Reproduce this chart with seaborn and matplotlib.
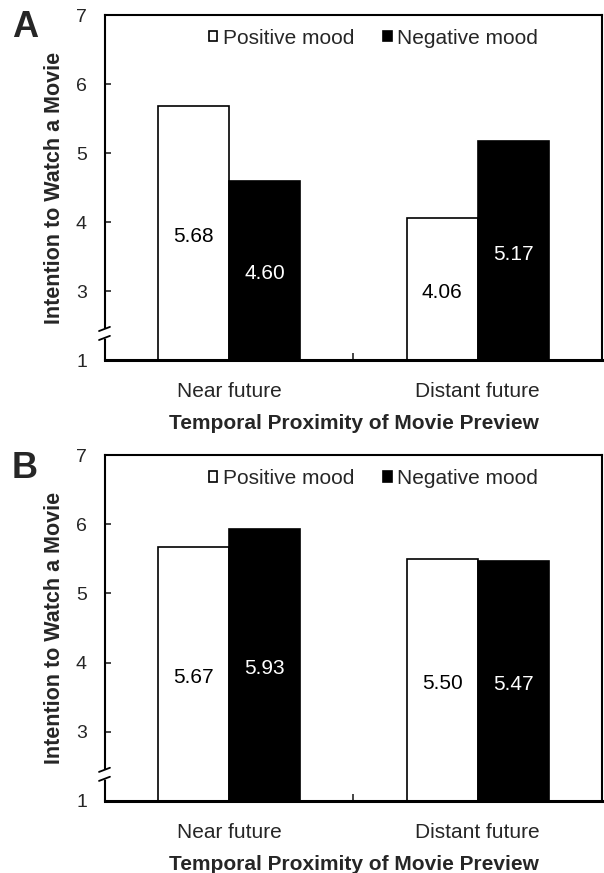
import matplotlib
matplotlib.use("Agg")
import matplotlib.pyplot as plt
import seaborn as sns
import pandas as pd

# data
timing = ["Near future", "Distant future"]
moods = ["Positive mood", "Negative mood"]
panel_a_pos = [5.68, 4.06]
panel_a_neg = [4.60, 5.17]
panel_b_pos = [5.67, 5.50]
panel_b_neg = [5.93, 5.47]

# broken y axis: the tick labelled "1" sits one unit below 3
ytick_pos = [2, 3, 4, 5, 6, 7]
ytick_labels = ["1", "3", "4", "5", "6", "7"]
axis_floor = 2

sns.set_style("ticks")
plt.rcParams['font.family'] = ['Liberation Sans', 'DejaVu Sans']
FS = 15


def draw_panel(ax, pos, neg):
    df = pd.DataFrame({
        "Timing": timing * 2,
        "Mood": [moods[0]] * len(timing) + [moods[1]] * len(timing),
        "Score": pos + neg,
    })
    sns.barplot(data=df, x="Timing", y="Score", hue="Mood", order=timing,
                hue_order=moods, palette=["white", "black"], edgecolor="black",
                linewidth=1.2, width=0.57, gap=0, ax=ax)

    # value labels in the middle of the visible part of each bar
    for i, cont in enumerate(ax.containers):
        for bar in cont:
            h = bar.get_height()
            ax.text(bar.get_x() + bar.get_width() / 2, (axis_floor + h) / 2 - 0.05,
                    f"{h:.2f}", ha="center", va="center", fontsize=FS,
                    color="white" if i == 1 else "black")

    ax.set_ylim(axis_floor, 7)
    ax.set_xlim(-0.5, 1.5)
    ax.set_yticks(ytick_pos, ytick_labels)
    ax.tick_params(axis="y", direction="in", length=4, width=1.2, pad=13, labelsize=14)
    ax.tick_params(axis="x", length=0, pad=16, labelsize=FS)
    ax.set_xticks([0.5], minor=True)
    ax.tick_params(axis="x", which="minor", direction="in", length=5, width=1.2)
    for s in ax.spines.values():
        s.set_linewidth(1.5)
        s.set_color("black")
    ax.spines["bottom"].set_linewidth(2.2)

    ax.set_xlabel("Temporal Proximity of Movie Preview", fontsize=FS,
                  fontweight="bold", labelpad=9)
    ax.set_ylabel("Intention to Watch a Movie", fontsize=15.5,
                  fontweight="bold", labelpad=8)

    handles, labels = ax.get_legend_handles_labels()
    ax.legend(handles, labels, loc="center", bbox_to_anchor=(0.54, 0.933),
              ncol=2, frameon=False, fontsize=FS, handlelength=0.4,
              handleheight=0.4, handletextpad=0.25, columnspacing=1.4)

    # axis break marks
    ax.plot([0, 0], [0.070, 0.084], transform=ax.transAxes, color="white",
            lw=4, clip_on=False, zorder=5)
    for yb in (0.064, 0.090):
        ax.plot([-0.012, 0.010], [yb - 0.006, yb + 0.006], transform=ax.transAxes,
                color="black", lw=1.3, clip_on=False, zorder=6)


fig = plt.figure(figsize=(6.04, 8.73), dpi=100)
ax_a = fig.add_axes([0.1738, 0.5876, 0.8228, 0.3952])
ax_b = fig.add_axes([0.1738, 0.0825, 0.8228, 0.3963])
draw_panel(ax_a, panel_a_pos, panel_a_neg)
draw_panel(ax_b, panel_b_pos, panel_b_neg)

fig.text(0.020, 0.989, "A", fontsize=26, fontweight="bold", va="top", ha="left")
fig.text(0.020, 0.483, "B", fontsize=26, fontweight="bold", va="top", ha="left")

fig.savefig("out.png", dpi=100)
